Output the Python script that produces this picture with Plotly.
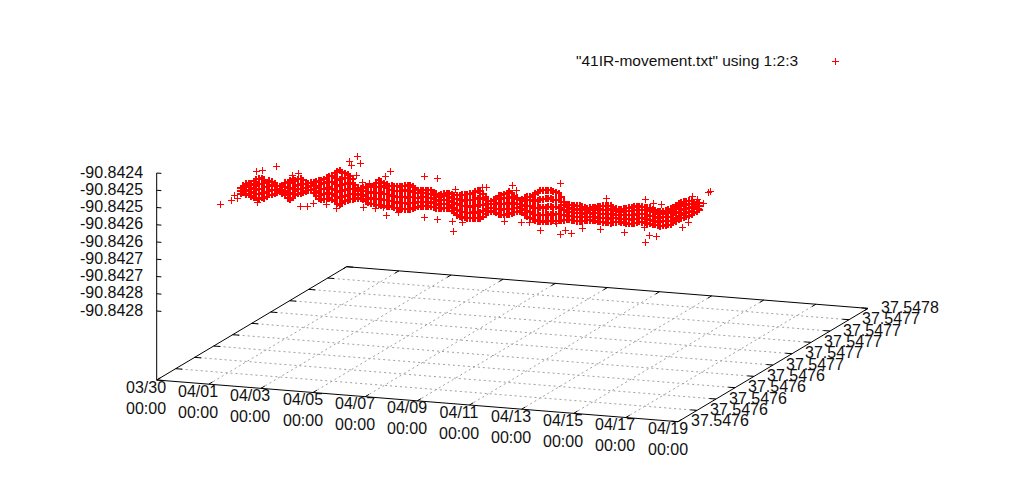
import plotly.graph_objects as go

# gnuplot splot of 41IR-movement.txt, view 60,30, drawn on a flat axes through project()
day_ticks = [0, 2, 4, 6, 8, 10, 12, 14, 16, 18, 20]
day_labels = ["03/30", "04/01", "04/03", "04/05", "04/07", "04/09", "04/11", "04/13", "04/15", "04/17", "04/19"]
lat_ticks = [37.54756, 37.54758, 37.54760, 37.54762, 37.54764, 37.54766, 37.54768, 37.54770, 37.54772, 37.54774, 37.54776]
lat_labels = ["37.5476"] * 5 + ["37.5477"] * 5 + ["37.5478"]
lon_ticks = [-90.8424, -90.84245, -90.8425, -90.84255, -90.8426, -90.84265, -90.8427, -90.84275, -90.8428]
lon_labels = ["-90.8424", "-90.8425", "-90.8425", "-90.8426", "-90.8426", "-90.8427", "-90.8427", "-90.8428", "-90.8428"]
lon_base = -90.8430
point_lat = 37.54761

# main band: one column per 0.1 day, longitudes as millionths of a degree above lon_base
band_days = [1.4, 1.5, 1.6, 1.7, 1.8, 1.9, 2.0, 2.1, 2.2, 2.3, 2.4, 2.5, 2.6, 2.7, 2.8, 2.9, 3.0, 3.1, 3.2, 3.3,
             3.4, 3.5, 3.6, 3.7, 3.8, 3.9, 4.0, 4.1, 4.2, 4.3, 4.4, 4.5, 4.6, 4.7, 4.8, 4.9, 5.0, 5.1, 5.2, 5.3,
             5.4, 5.5, 5.6, 5.7, 5.8, 5.9, 6.0, 6.1, 6.2, 6.3, 6.4, 6.5, 6.6, 6.7, 6.8, 6.9, 7.0, 7.1, 7.2, 7.3,
             7.4, 7.5, 7.6, 7.7, 7.8, 7.9, 8.0, 8.1, 8.2, 8.3, 8.4, 8.5, 8.6, 8.7, 8.8, 8.9, 9.0, 9.1, 9.2, 9.3,
             9.4, 9.5, 9.6, 9.7, 9.8, 9.9, 10.0, 10.1, 10.2, 10.3, 10.4, 10.5, 10.6, 10.7, 10.8, 10.9, 11.0, 11.1, 11.2, 11.3,
             11.4, 11.5, 11.6, 11.7, 11.8, 11.9, 12.0, 12.1, 12.2, 12.3, 12.4, 12.5, 12.6, 12.7, 12.8, 12.9, 13.0, 13.1, 13.2, 13.3,
             13.4, 13.5, 13.6, 13.7, 13.8, 13.9, 14.0, 14.1, 14.2, 14.3, 14.4, 14.5, 14.6, 14.7, 14.8, 14.9, 15.0, 15.1, 15.2, 15.3,
             15.4, 15.5, 15.6, 15.7, 15.8, 15.9, 16.0, 16.1, 16.2, 16.3, 16.4, 16.5, 16.6, 16.7, 16.8, 16.9, 17.0, 17.1, 17.2, 17.3,
             17.4, 17.5, 17.6, 17.7, 17.8, 17.9, 18.0, 18.1, 18.2, 18.3, 18.4, 18.5, 18.6, 18.7, 18.8, 18.9, 19.0]
band_lon = [
    [474, 482, 466], [470, 482, 490], [464, 476, 488, 496], [466, 478, 490, 499], [462, 474, 486, 498],
    [458, 470, 482, 494, 506], [458, 468, 480, 492, 504, 512], [456, 470, 484, 498, 514], [460, 472, 486, 500, 516],
    [458, 474, 490, 504, 512], [464, 478, 492, 506], [470, 482, 496, 510], [470, 484, 498, 508], [474, 486, 496, 504],
    [478, 488, 498], [482, 490, 497], [478, 488, 500], [472, 484, 496, 508], [464, 480, 494, 510], [460, 476, 492, 508, 516],
    [466, 480, 496, 512, 520], [474, 486, 500, 516], [480, 492, 506, 522], [482, 494, 508, 524], [484, 496, 510, 520],
    [488, 498, 510], [492, 502, 512], [494, 504, 514], [486, 498, 510, 516], [478, 492, 506, 518], [470, 486, 502, 522],
    [468, 482, 498, 514, 524], [470, 484, 500, 516, 528], [472, 488, 504, 520, 532], [474, 490, 506, 522, 537],
    [470, 486, 502, 520, 540], [466, 482, 498, 516, 534, 548], [460, 478, 496, 514, 532, 552], [458, 476, 494, 512, 530, 557],
    [462, 480, 498, 516, 534, 552], [468, 484, 500, 518, 536, 550], [472, 488, 504, 522, 538, 546], [475, 490, 506, 524, 542],
    [476, 492, 506, 520, 534], [478, 492, 504, 518], [480, 490, 500, 510], [480, 492, 502, 509], [478, 490, 502, 512],
    [474, 488, 502, 515], [470, 484, 500, 517], [468, 482, 498, 516], [468, 484, 502, 522], [466, 482, 500, 518, 530],
    [466, 482, 500, 518, 537], [466, 484, 504, 522, 534], [465, 482, 500, 518, 530], [464, 482, 500, 516, 526],
    [465, 480, 498, 512, 523], [464, 480, 496, 512, 524], [462, 478, 494, 510, 524], [460, 476, 494, 510, 524],
    [460, 478, 494, 510, 524], [460, 476, 494, 512, 526], [460, 478, 496, 514, 528], [460, 476, 494, 512, 530],
    [460, 478, 496, 514, 530], [464, 480, 496, 512, 526], [466, 480, 494, 508, 522], [470, 482, 496, 510, 518],
    [471, 484, 498, 510, 517], [472, 484, 498, 510, 518], [473, 486, 500, 512, 520], [473, 484, 496, 508, 520],
    [473, 486, 498, 510, 520], [472, 484, 496, 508, 516], [470, 482, 494, 506, 512], [470, 480, 492, 502, 508],
    [470, 482, 494, 504, 510], [471, 483, 495, 506, 514], [472, 484, 496, 508, 516], [472, 482, 494, 506, 516],
    [466, 478, 492, 504, 514], [460, 474, 488, 502, 512], [454, 470, 486, 500, 512], [451, 468, 484, 498, 512],
    [450, 466, 482, 498, 514], [449, 465, 482, 500, 516], [448, 464, 482, 500, 518], [448, 464, 482, 500, 520],
    [449, 466, 484, 502, 522], [449, 466, 486, 506, 526], [450, 468, 488, 508, 530], [450, 468, 490, 510, 531],
    [456, 472, 490, 506, 522], [464, 478, 492, 506, 514], [470, 482, 494, 504], [473, 484, 494, 502], [472, 484, 496, 508],
    [470, 482, 496, 510], [466, 482, 498, 514, 520], [466, 480, 496, 512, 522], [466, 482, 498, 514, 526],
    [468, 484, 500, 516, 530], [469, 484, 500, 518, 535], [472, 486, 502, 518, 530], [476, 488, 502, 516, 524],
    [478, 490, 502, 514, 518], [480, 492, 502, 512], [476, 488, 500, 512, 516], [470, 484, 498, 512, 520],
    [466, 482, 498, 514, 524], [462, 480, 498, 514, 525], [460, 476, 494, 512, 530], [458, 474, 494, 514, 534],
    [456, 474, 494, 516, 540], [455, 474, 496, 518, 545], [456, 476, 496, 520, 546], [456, 476, 498, 522, 547],
    [458, 478, 500, 524, 548], [458, 478, 500, 524, 548], [460, 478, 500, 522, 546], [460, 480, 502, 522, 544],
    [461, 480, 500, 522, 541], [462, 480, 498, 516, 530], [464, 480, 494, 508, 518], [466, 478, 490, 502, 512],
    [467, 478, 490, 500, 510], [466, 478, 490, 500, 510], [466, 476, 488, 500, 510], [465, 476, 488, 498, 510],
    [465, 478, 490, 500, 510], [466, 478, 490, 500, 508], [468, 478, 488, 498, 506], [470, 480, 490, 498, 505],
    [471, 480, 490, 500, 506], [470, 480, 490, 500, 508], [470, 480, 492, 502, 510], [468, 480, 492, 504, 513],
    [468, 480, 492, 504, 514], [468, 480, 492, 504, 515], [467, 480, 492, 504, 516], [467, 480, 492, 506, 517],
    [467, 478, 492, 506, 517], [470, 482, 494, 504, 514], [471, 482, 492, 502, 510], [472, 482, 492, 500, 507],
    [472, 482, 492, 502, 508], [471, 482, 494, 504, 511], [470, 482, 494, 506, 513], [469, 482, 494, 506, 515],
    [470, 482, 496, 508, 518], [472, 484, 496, 510, 520], [474, 486, 498, 512, 522], [477, 488, 500, 512, 523],
    [476, 488, 500, 512, 522], [476, 488, 500, 512, 521], [475, 488, 500, 512, 520], [474, 486, 498, 510, 520],
    [472, 484, 496, 508, 517], [472, 484, 496, 506, 515], [471, 482, 494, 504, 512], [470, 482, 494, 504, 511],
    [472, 484, 496, 506, 514], [473, 486, 498, 508, 516], [475, 486, 498, 510, 519], [476, 488, 500, 512, 522],
    [482, 492, 504, 516, 528], [488, 498, 510, 522, 534], [494, 504, 516, 528, 540], [497, 508, 520, 532, 543],
    [500, 512, 524, 536, 546], [503, 514, 526, 538, 548], [506, 516, 528, 540, 550], [510, 520, 532, 542, 550],
    [516, 526, 536, 546], [520, 530, 540, 548], [526, 536, 546],
]

# points lying off the band
stray_days = [0.64, 1.03, 1.18, 1.26, 1.99, 2.22, 2.76, 2.03, 3.68, 3.95, 3.37, 3.6, 4.18, 4.68, 5.06, 5.87, 5.98, 5.56,
              5.67, 5.83, 6.06, 6.13, 6.56, 6.86, 6.98, 6.36, 8.44, 8.94, 7.13, 6.94, 9.55, 12.89, 13.66, 13.66, 11.82,
              12.0, 7.44, 8.44, 8.94, 9.51, 9.9, 11.51, 12.16, 12.47, 10.66, 10.82, 9.63, 13.85, 14.08, 14.5, 15.19,
              16.11, 16.92, 17.07, 17.34, 19.42, 19.34, 18.73, 18.92, 19.15, 15.42, 16.92, 17.23, 17.53, 16.88, 18.35,
              18.57, 18.96, 13.5]
stray_lon = [431, 443, 461, 451, 533, 540, 552, 446, 442, 446, 530, 537, 456, 456, 447, 600, 583, 586,
             575, 545, 528, 454, 456, 458, 438, 527, 560, 557, 564, 551, 407, 430, 421, 569, 552,
             541, 447, 441, 438, 436, 433, 448, 449, 451, 539, 540, 527, 434, 429, 446, 445,
             444, 420, 441, 440, 583, 577, 564, 554, 544, 536, 542, 535, 534, 463, 472,
             488, 531, 452]


def project(day, lat, lon):
    u = (lat - lat_ticks[0]) / (lat_ticks[-1] - lat_ticks[0])
    sx = 156.7 + day / 20 * 521.3 + u * 190
    sy = 380 + day / 20 * 41.7 - u * 113.3 - (lon - lon_base) * 345000
    return sx, sy


def segments(pairs):
    xs, ys = [], []
    for a, b in pairs:
        pa, pb = project(*a), project(*b)
        xs += [pa[0], pb[0], None]
        ys += [pa[1], pb[1], None]
    return xs, ys


lat0, lat1 = lat_ticks[0], lat_ticks[-1]
day0, day1 = day_ticks[0], day_ticks[-1]

grid = []
for d in day_ticks[1:-1]:
    grid.append(((d, lat0, lon_base), (d, lat1, lon_base)))
for la in lat_ticks[1:-1]:
    grid.append(((day0, la, lon_base), (day1, la, lon_base)))

border = [
    ((day0, lat0, lon_base), (day1, lat0, lon_base)),
    ((day1, lat0, lon_base), (day1, lat1, lon_base)),
    ((day1, lat1, lon_base), (day0, lat1, lon_base)),
    ((day0, lat1, lon_base), (day0, lat0, lon_base)),
    ((day0, lat0, lon_base), (day0, lat0, lon_ticks[0])),
]
for d in day_ticks:
    border.append(((d, lat0, lon_base), (d, lat0 + 0.000004, lon_base)))
    border.append(((d, lat1, lon_base), (d, lat1 - 0.000004, lon_base)))
for la in lat_ticks:
    border.append(((day0, la, lon_base), (day0 + 0.25, la, lon_base)))
    border.append(((day1, la, lon_base), (day1 - 0.25, la, lon_base)))
for lo in lon_ticks:
    border.append(((day0, lat0, lo), (day0 + 0.18, lat0, lo)))

band_x, band_y = [], []
for d, col in zip(band_days, band_lon):
    for m in col:
        sx, sy = project(d, point_lat, lon_base + m * 1e-6)
        band_x.append(sx)
        band_y.append(sy)

stray_x, stray_y = [], []
for d, m in zip(stray_days, stray_lon):
    sx, sy = project(d, point_lat, lon_base + m * 1e-6)
    stray_x.append(sx)
    stray_y.append(sy)

fig = go.Figure()

gx, gy = segments(grid)
fig.add_trace(go.Scatter(x=gx, y=gy, mode="lines", line=dict(color="#a0a0a0", width=1, dash="2px,3px"), hoverinfo="skip"))
bx, by = segments(border)
fig.add_trace(go.Scatter(x=bx, y=by, mode="lines", line=dict(color="black", width=1), hoverinfo="skip"))

RED = "#ff0000"
fig.add_trace(go.Scatter(x=band_x, y=band_y, mode="markers",
                         marker=dict(symbol="cross-thin", size=5, color=RED, line=dict(color=RED, width=2))))
thin = dict(symbol="cross-thin", size=5, color=RED, line=dict(color=RED, width=1))
fig.add_trace(go.Scatter(x=stray_x, y=stray_y, mode="markers", marker=thin))
fig.add_trace(go.Scatter(x=[835], y=[61], mode="markers", marker=thin, hoverinfo="skip"))

TICK_FONT = dict(family="Liberation Sans", size=16, color="#111111")
KEY_FONT = dict(family="Liberation Sans", size=15.5, color="#111111")

notes = []
for d, lab in zip(day_ticks, day_labels):
    sx, sy = project(d, lat0, lon_base)
    notes.append(dict(x=sx - 10.5, y=sy + 17.5, text=lab + "<br>00:00", xanchor="center", yanchor="middle", font=TICK_FONT))
for la, lab in zip(lat_ticks, lat_labels):
    sx, sy = project(day1, la, lon_base)
    notes.append(dict(x=sx + 12, y=sy - 1, text=lab, xanchor="left", yanchor="middle", font=TICK_FONT))
for lo, lab in zip(lon_ticks, lon_labels):
    sx, sy = project(day0, lat0, lo)
    notes.append(dict(x=sx - 13, y=sy - 1, text=lab, xanchor="right", yanchor="middle", font=TICK_FONT))
notes.append(dict(x=799, y=60, text='"41IR-movement.txt" using 1:2:3', xanchor="right", yanchor="middle", font=KEY_FONT))
for n in notes:
    n.update(showarrow=False, align="center", xref="x", yref="y", borderpad=0)

fig.update_layout(
    width=1024, height=500,
    margin=dict(l=0, r=0, t=0, b=0),
    plot_bgcolor="white", paper_bgcolor="white",
    showlegend=False,
    annotations=notes,
    xaxis=dict(range=[0, 1024], visible=False, fixedrange=True),
    yaxis=dict(range=[500, 0], visible=False, fixedrange=True),
)

fig.write_html("out.html", config={"displayModeBar": False},
               post_script="document.body.style.margin='0';var s=document.createElement('style');s.textContent='.point{shape-rendering:crispEdges}';document.head.appendChild(s);")
